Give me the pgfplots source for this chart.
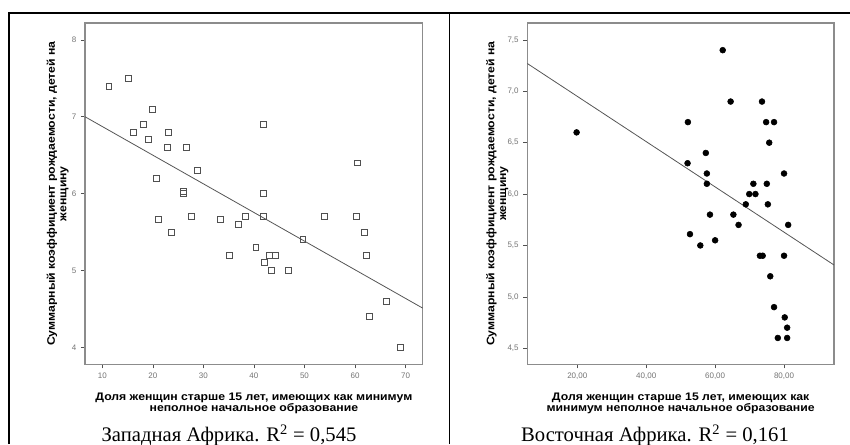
\documentclass[border=0pt]{standalone}
\usepackage{fontspec}
\setmainfont{Liberation Serif}
\newfontfamily\labfont{Liberation Sans}[FakeStretch=1.12]
\newfontfamily\tickfont{Liberation Sans}
\usepackage{pgfplots}
\pgfplotsset{compat=1.18}

\definecolor{framegray}{HTML}{8C8C8C}
\definecolor{markgray}{HTML}{505050}
\definecolor{linegray}{HTML}{555555}

\pgfplotsset{
  spss/.style={
    scale only axis,
    anchor=south west,
    height=256pt,
    tick pos=left,
    tick align=outside,
    major tick length=3pt,
    axis line style={draw=framegray, line width=0.9pt},
    tick style={draw=markgray, line width=0.5pt},
    tick label style={font=\tickfont\fontsize{6}{7}\selectfont, text=gray!90!black},
    /pgf/number format/assume math mode=true,
    label style={font=\labfont\bfseries\fontsize{8.2}{8.7}\selectfont, align=center},
    clip=false,
  },
}

\begin{document}
\begin{tikzpicture}[x=0.75pt,y=0.75pt]
\useasboundingbox (0,0) rectangle (850,444);
\draw[line width=1.2pt] (8,431) -- (850,431);
\draw[line width=1.2pt] (9,0) -- (9,431.6);
\draw[line width=1.2pt] (449.5,0) -- (449.5,431.6);

% West Africa
\begin{axis}[
  spss,
  at={(63.75pt,59.8pt)},
  width=253.3pt,
  xmin=6.57, xmax=73.4,
  ymin=3.78, ymax=8.22,
  xtick={10,20,30,40,50,60,70},
  ytick={4,5,6,7,8},
  xlabel={Доля женщин старше 15 лет, имеющих как минимум\\неполное начальное образование},
  ylabel={Суммарный коэффициент рождаемости, детей на\\женщину},
  xlabel style={at={(axis description cs:0.5,-0.115)}, anchor=center},
  ylabel style={at={(axis description cs:-0.081,0.5)}, anchor=center},
]
\addplot[only marks, mark=square, mark size=2.2pt, mark options={draw=markgray, fill=white, line width=0.6pt}] coordinates {
(11.3,7.4) (15.2,7.5) (19.9,7.1) (18.1,6.9) (16.1,6.8) (23.0,6.8)
(19.1,6.7) (22.8,6.6) (26.6,6.6) (41.9,6.9) (28.8,6.3) (20.7,6.2)
(60.5,6.4) (26.0,6.03) (26.1,6.0) (41.9,6.0)
(21.1,5.67) (27.7,5.7) (33.4,5.67) (23.7,5.5) (36.9,5.6) (38.3,5.7)
(41.8,5.7) (54.0,5.7) (60.2,5.7) (61.9,5.5) (49.7,5.4)
(40.4,5.3) (35.1,5.2) (43.0,5.2) (44.3,5.2) (62.2,5.2) (42.1,5.1)
(43.5,5.0) (46.9,5.0) (66.2,4.6) (62.8,4.4) (69.0,4.0)
};
\addplot[no marks, color=linegray, line width=0.6pt] coordinates {(6.57,7.0) (73.4,4.51)};
\end{axis}

% East Africa
\begin{axis}[
  spss,
  at={(395.5pt,59.8pt)},
  width=230pt,
  xmin=5.5, xmax=94.5,
  ymin=4.344, ymax=7.665,
  xtick={20,40,60,80},
  ytick={4.5,5,5.5,6,6.5,7,7.5},
  xticklabel style={/pgf/number format/.cd, fixed, fixed zerofill, precision=2, use comma},
  yticklabel style={/pgf/number format/.cd, fixed, fixed zerofill, precision=1, use comma},
  xlabel={Доля женщин старше 15 лет, имеющих как\\минимум неполное начальное образование},
  ylabel={Суммарный коэффициент рождаемости, детей на\\женщину},
  xlabel style={at={(axis description cs:0.5,-0.115)}, anchor=center},
  ylabel style={at={(axis description cs:-0.098,0.5)}, anchor=center},
]
\addplot[only marks, mark=*, mark size=2.2pt, mark options={draw=black, fill=black}] coordinates {
(19.8,6.6) (62.2,7.4) (64.5,6.9) (73.6,6.9) (52.1,6.7) (74.8,6.7)
(77.1,6.7) (75.7,6.5) (57.3,6.4) (52.0,6.3) (57.6,6.2) (80.0,6.2)
(57.6,6.1) (71.1,6.1) (75.0,6.1) (69.9,6.0) (71.7,6.0) (68.9,5.9)
(75.3,5.9) (58.5,5.8) (65.3,5.8) (66.8,5.7) (81.2,5.7) (52.7,5.61)
(55.7,5.5) (60.0,5.55) (73.0,5.4) (73.8,5.4) (80.0,5.4) (76.0,5.2)
(77.1,4.9) (80.2,4.8) (80.9,4.7) (78.2,4.6) (80.9,4.6)
};
\addplot[no marks, color=linegray, line width=0.6pt] coordinates {(5.5,7.27) (94.5,5.31)};
\end{axis}

\node[anchor=base, font=\fontsize{15.5}{18}\selectfont] at (229,3) {Западная Африка. R\textsuperscript{2} = 0,545};
\node[anchor=base, font=\fontsize{15.5}{18}\selectfont] at (655,3) {Восточная Африка. R\textsuperscript{2} = 0,161};
\end{tikzpicture}
\end{document}
